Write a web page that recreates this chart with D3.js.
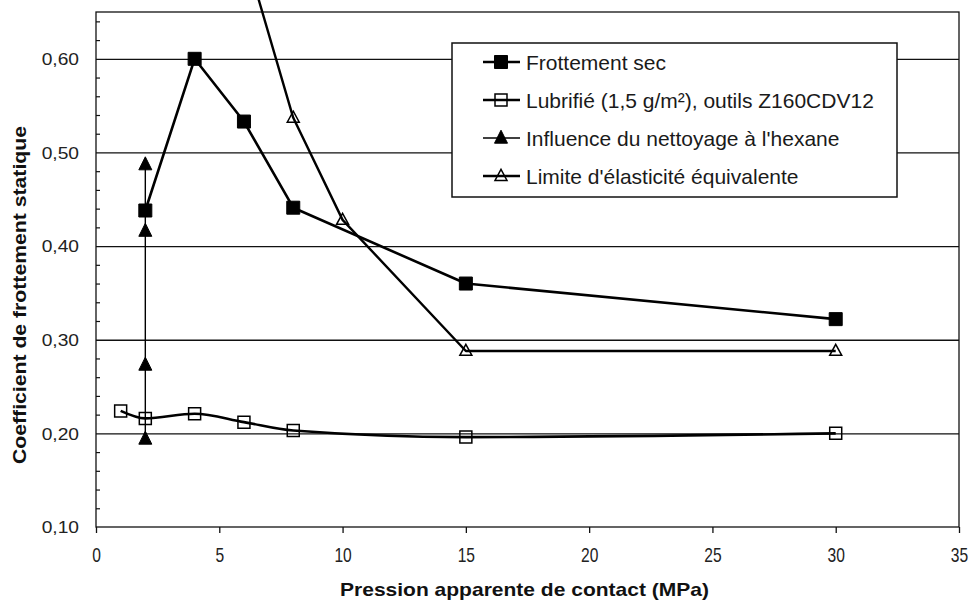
<!DOCTYPE html>
<html><head><meta charset="utf-8">
<script src="https://cdn.jsdelivr.net/npm/d3@7"></script>
<style>
html,body{margin:0;padding:0;background:#fff;}
svg{display:block;font-family:"Liberation Sans",Arial,sans-serif;}
</style></head>
<body>
<svg id="chart" width="973" height="604"></svg>
<script>
// ---- data ----
const xTicks = [0, 5, 10, 15, 20, 25, 30, 35];
const yTicks = [0.10, 0.20, 0.30, 0.40, 0.50, 0.60];
const yMinorTicks = [0.12,0.14,0.16,0.18,0.22,0.24,0.26,0.28,0.32,0.34,0.36,0.38,0.42,0.44,0.46,0.48,0.52,0.54,0.56,0.58,0.62,0.64];
const seriesNames = ["Frottement sec", "Lubrifié (1,5 g/m²), outils Z160CDV12", "Influence du nettoyage à l'hexane", "Limite d'élasticité équivalente"];
const secX = [2, 4, 6, 8, 15, 30];
const secY = [0.438, 0.600, 0.533, 0.441, 0.360, 0.322];
const lubX = [1, 2, 4, 6, 8, 15, 30];
const lubY = [0.224, 0.216, 0.221, 0.212, 0.203, 0.196, 0.200];
const hexX = [2, 2, 2, 2];
const hexY = [0.487, 0.416, 0.273, 0.194];
const limX = [6, 8, 10, 15, 30];
const limY = [0.717, 0.537, 0.428, 0.288, 0.288];
const xTitle = "Pression apparente de contact (MPa)";
const yTitle = "Coefficient de frottement statique";

// ---- layout ----
const L = 96, R = 959, T = 12, B = 527;
const x = d3.scaleLinear().domain([0, 35]).range([L, R]);
const y = d3.scaleLinear().domain([0.10, 0.65]).range([B, T]);
const svg = d3.select("#chart");
const fmt = v => d3.format(".2f")(v).replace(".", ",");

// gridlines
const grid = svg.append("g").attr("transform", `translate(${L},0)`)
  .call(d3.axisLeft(y).tickValues(yTicks.filter(v => v > 0.1)).tickSize(-(R - L)).tickFormat(""));
grid.select(".domain").remove();
grid.selectAll("line").attr("stroke", "#111").attr("stroke-width", 1.3);

// plot border
svg.append("rect").attr("x", L).attr("y", T).attr("width", R - L).attr("height", B - T)
  .attr("fill", "none").attr("stroke", "#111").attr("stroke-width", 1.3);

// y minor ticks (inside)
const ym = svg.append("g").attr("transform", `translate(${L},0)`)
  .call(d3.axisRight(y).tickValues(yMinorTicks).tickSize(4).tickFormat(""));
ym.select(".domain").remove();
ym.selectAll("line").attr("stroke", "#111").attr("stroke-width", 1.2);

// y labels
const yl = svg.append("g").attr("transform", `translate(${L},0)`)
  .call(d3.axisLeft(y).tickValues(yTicks).tickSize(0).tickFormat(fmt));
yl.select(".domain").remove();
yl.selectAll("text").attr("x", 0).attr("dy", "0.36em")
  .attr("transform", "translate(-17,0) scale(1.2,1)")
  .attr("font-size", 16).attr("fill", "#222").attr("font-family", "'Liberation Sans',Arial,sans-serif")
  .attr("text-anchor", "end");

// x axis
const xa = svg.append("g").attr("transform", `translate(0,${B})`)
  .call(d3.axisBottom(x).tickValues(xTicks).tickSize(6).tickFormat(d => String(d)));
xa.select(".domain").remove();
xa.selectAll("line").attr("stroke", "#111").attr("stroke-width", 1.3);
xa.selectAll("text").attr("y", 0).attr("dy", 0)
  .attr("transform", "translate(0,35) scale(0.78,1)")
  .attr("font-size", 20).attr("fill", "#222").attr("font-family", "'Liberation Sans',Arial,sans-serif");

// titles
svg.append("text").attr("x", 340).attr("y", 596).attr("font-size", 19).attr("font-weight", "bold")
  .attr("textLength", 369).attr("lengthAdjust", "spacingAndGlyphs").attr("fill", "#111").text(xTitle);
svg.append("text").attr("transform", "translate(26,295) rotate(-90)").attr("text-anchor", "middle")
  .attr("font-size", 18).attr("font-weight", "bold")
  .attr("textLength", 338).attr("lengthAdjust", "spacingAndGlyphs").attr("fill", "#111").text(yTitle);

// markers
const sqPath = s => `M${-s/2},${-s/2}h${s}v${s}h${-s}Z`;
const triPath = (w, h) => `M0,${-h*0.6}L${w/2},${h*0.4}L${-w/2},${h*0.4}Z`;
const styles = [
  {xs: secX, ys: secY, curve: d3.curveLinear, lw: 2.6, marker: sqPath(13), fill: "#000"},
  {xs: lubX, ys: lubY, curve: d3.curveMonotoneX, lw: 2.6, marker: sqPath(12), fill: "none"},
  {xs: hexX, ys: hexY, curve: d3.curveLinear, lw: 1.4, marker: triPath(13, 13), fill: "#000"},
  {xs: limX, ys: limY, curve: d3.curveLinear, lw: 2.4, marker: triPath(12, 11), fill: "none"}
];
const line = d3.line().x(d => x(d[0])).y(d => y(d[1]));
styles.forEach(s => {
  const pts = s.xs.map((v, i) => [v, s.ys[i]]);
  svg.append("path").attr("d", line.curve(s.curve)(pts)).attr("fill", "none")
    .attr("stroke", "#000").attr("stroke-width", s.lw).attr("stroke-linejoin", "round");
  svg.append("g").selectAll("path").data(pts).join("path")
    .attr("transform", d => `translate(${x(d[0])},${y(d[1])})`)
    .attr("d", s.marker).attr("fill", s.fill).attr("stroke", "#000").attr("stroke-width", s.fill === "none" ? 1.5 : 1);
});

// legend
const lg = svg.append("g");
lg.append("rect").attr("x", 452).attr("y", 43).attr("width", 445).attr("height", 154)
  .attr("fill", "#fff").attr("stroke", "#111").attr("stroke-width", 1.5);
seriesNames.forEach((name, i) => {
  const cy = 62 + i * 38, s = styles[i];
  lg.append("line").attr("x1", 483).attr("x2", 520).attr("y1", cy).attr("y2", cy)
    .attr("stroke", "#000").attr("stroke-width", s.lw);
  lg.append("path").attr("transform", `translate(501,${cy})`).attr("d", s.marker)
    .attr("fill", s.fill).attr("stroke", "#000").attr("stroke-width", s.fill === "none" ? 1.5 : 1);
  lg.append("text").attr("x", 526).attr("y", cy + 7.5).attr("font-size", 21)
    .attr("fill", "#1a1a1a").text(name);
});
</script>
</body></html>
